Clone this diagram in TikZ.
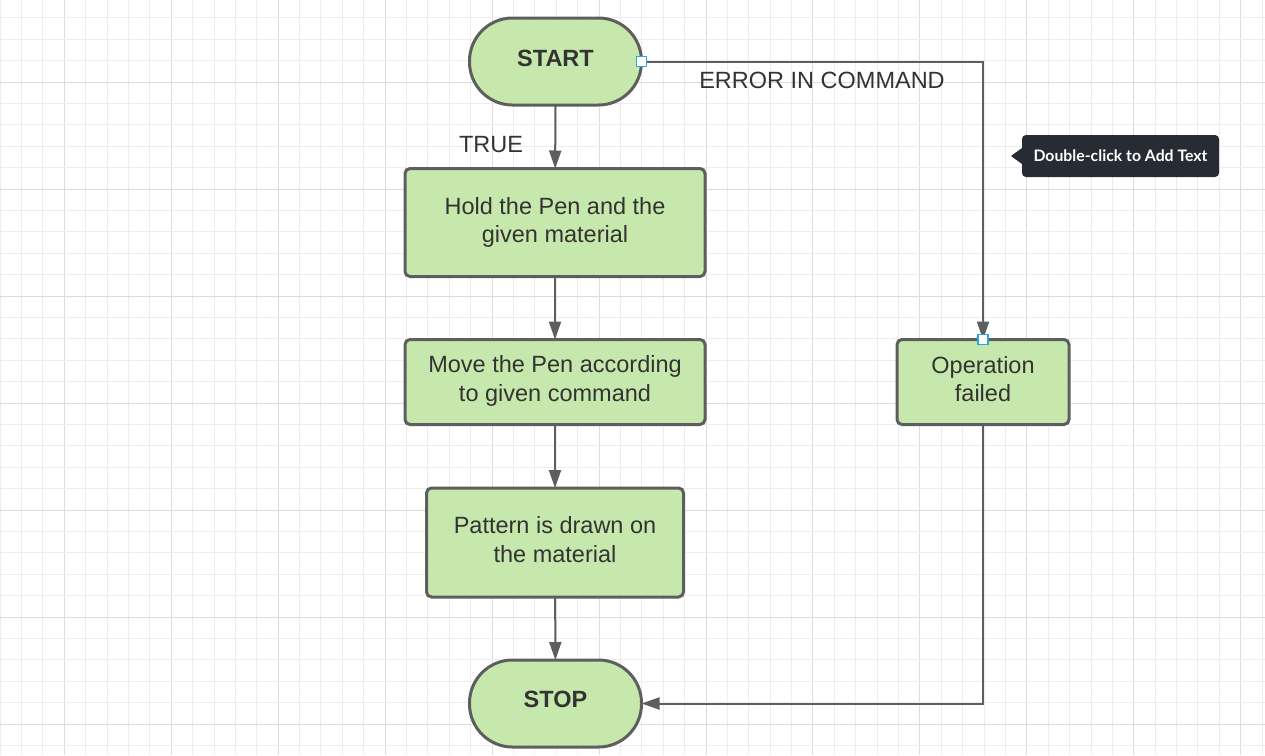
\documentclass[tikz,border=0pt]{standalone}
\usepackage{fontspec}
\setmainfont{Liberation Sans}
\newfontfamily\tipfont{Lato}
\usetikzlibrary{arrows.meta}
\definecolor{gridminor}{HTML}{EDEDED}
\definecolor{gridmajor}{HTML}{DCDCDC}
\definecolor{boxfill}{HTML}{C7E8AC}
\definecolor{boxline}{HTML}{5E5E5E}
\definecolor{txt}{HTML}{333333}
\definecolor{handle}{HTML}{29A8E0}
\definecolor{tipbg}{HTML}{272B33}
\tikzset{
  x=1pt, y=-1pt,
  every node/.style={inner sep=0pt, outer sep=0pt},
  flowbox/.style={draw=boxline, line width=3pt, fill=boxfill, rounded corners=5pt},
  terminal/.style={flowbox, rounded corners=43pt, minimum width=172pt, minimum height=87pt},
  boxtext/.style={align=center, text=txt, font=\fontsize{23.5}{28.8}\selectfont},
  termtext/.style={text=txt, font=\fontsize{23.5}{28.8}\selectfont\bfseries},
  conn/.style={draw=boxline, line width=2pt},
  arr/.style={conn, -{Triangle[length=18pt,width=12pt]}},
  lbl/.style={text=txt, font=\fontsize{23.5}{28}\selectfont},
  hnd/.style={draw=handle, fill=white, line width=1.2pt, minimum size=10pt},
}
\begin{document}
\begin{tikzpicture}
\useasboundingbox (0,0) rectangle (1265,755);
\fill[white] (0,0) rectangle (1265,755);
% grid
\foreach \k in {-3,...,56}{
  \pgfmathsetmacro{\xx}{64.3+21.39*\k}
  \pgfmathtruncatemacro{\m}{mod(\k+100,5)}
  \ifnum\m=0
    \draw[gridmajor, line width=1pt] (\xx,0) -- (\xx,755);
  \else
    \draw[gridminor, line width=1pt] (\xx,0) -- (\xx,755);
  \fi
}
\foreach \k in {-4,...,32}{
  \pgfmathsetmacro{\yy}{82+21.4*\k}
  \pgfmathtruncatemacro{\m}{mod(\k+100,5)}
  \ifnum\m=0
    \draw[gridmajor, line width=1pt] (0,\yy) -- (1265,\yy);
  \else
    \draw[gridminor, line width=1pt] (0,\yy) -- (1265,\yy);
  \fi
}
% boxes
\node[terminal] (start) at (555.5,61.5) {};
\node[flowbox, minimum width=300pt, minimum height=108pt] (hold) at (555,222.5) {};
\node[flowbox, minimum width=300pt, minimum height=85pt] (move) at (555,382) {};
\node[flowbox, minimum width=257pt, minimum height=109pt] (pattern) at (555,542.5) {};
\node[flowbox, minimum width=172pt, minimum height=85pt] (op) at (983,382) {};
\node[terminal] (stop) at (555.5,703.5) {};
% box texts
\node[termtext] (starttext) at ([yshift=3.5pt]start.center) {START};
\node[boxtext] (holdtext) at (hold.center) {Hold the Pen and the\\given material};
\node[boxtext] (movetext) at ([yshift=1pt]move.center) {Move the Pen according\\to given command};
\node[boxtext] (patterntext) at ([yshift=3pt]pattern.center) {Pattern is drawn on\\the material};
\node[boxtext] (optext) at ([yshift=3pt]op.center) {Operation\\failed};
\node[termtext] (stoptext) at ([yshift=4.5pt]stop.center) {STOP};
% connectors
\draw[arr] (start) -- (hold);
\draw[arr] (hold) -- (move);
\draw[arr] (move) -- (pattern);
\draw[arr] (pattern) -- (stop);
\draw[arr] (start.east) -| (op.north);
\draw[arr] (op.south) |- (stop.east);
% labels
\node[lbl] (ltrue) at (491,145) {TRUE};
\node[lbl] (lerr) at (822,80) {ERROR IN COMMAND};
% handles
\node[hnd] (h1) at (start.east) {};
\node[hnd] (h2) at (op.north) {};
% tooltip
\node[fill=tipbg, rounded corners=4pt, minimum width=197pt, minimum height=42pt,
  text=white, font=\tipfont\bfseries\fontsize{15.8}{18}\selectfont] (tip) at (1120.5,156) {Double-click to Add Text};
\fill[tipbg] ([yshift=-8pt]tip.west) -- ++(-11,-8) -- ([yshift=8pt]tip.west) -- cycle;
\end{tikzpicture}
\end{document}
